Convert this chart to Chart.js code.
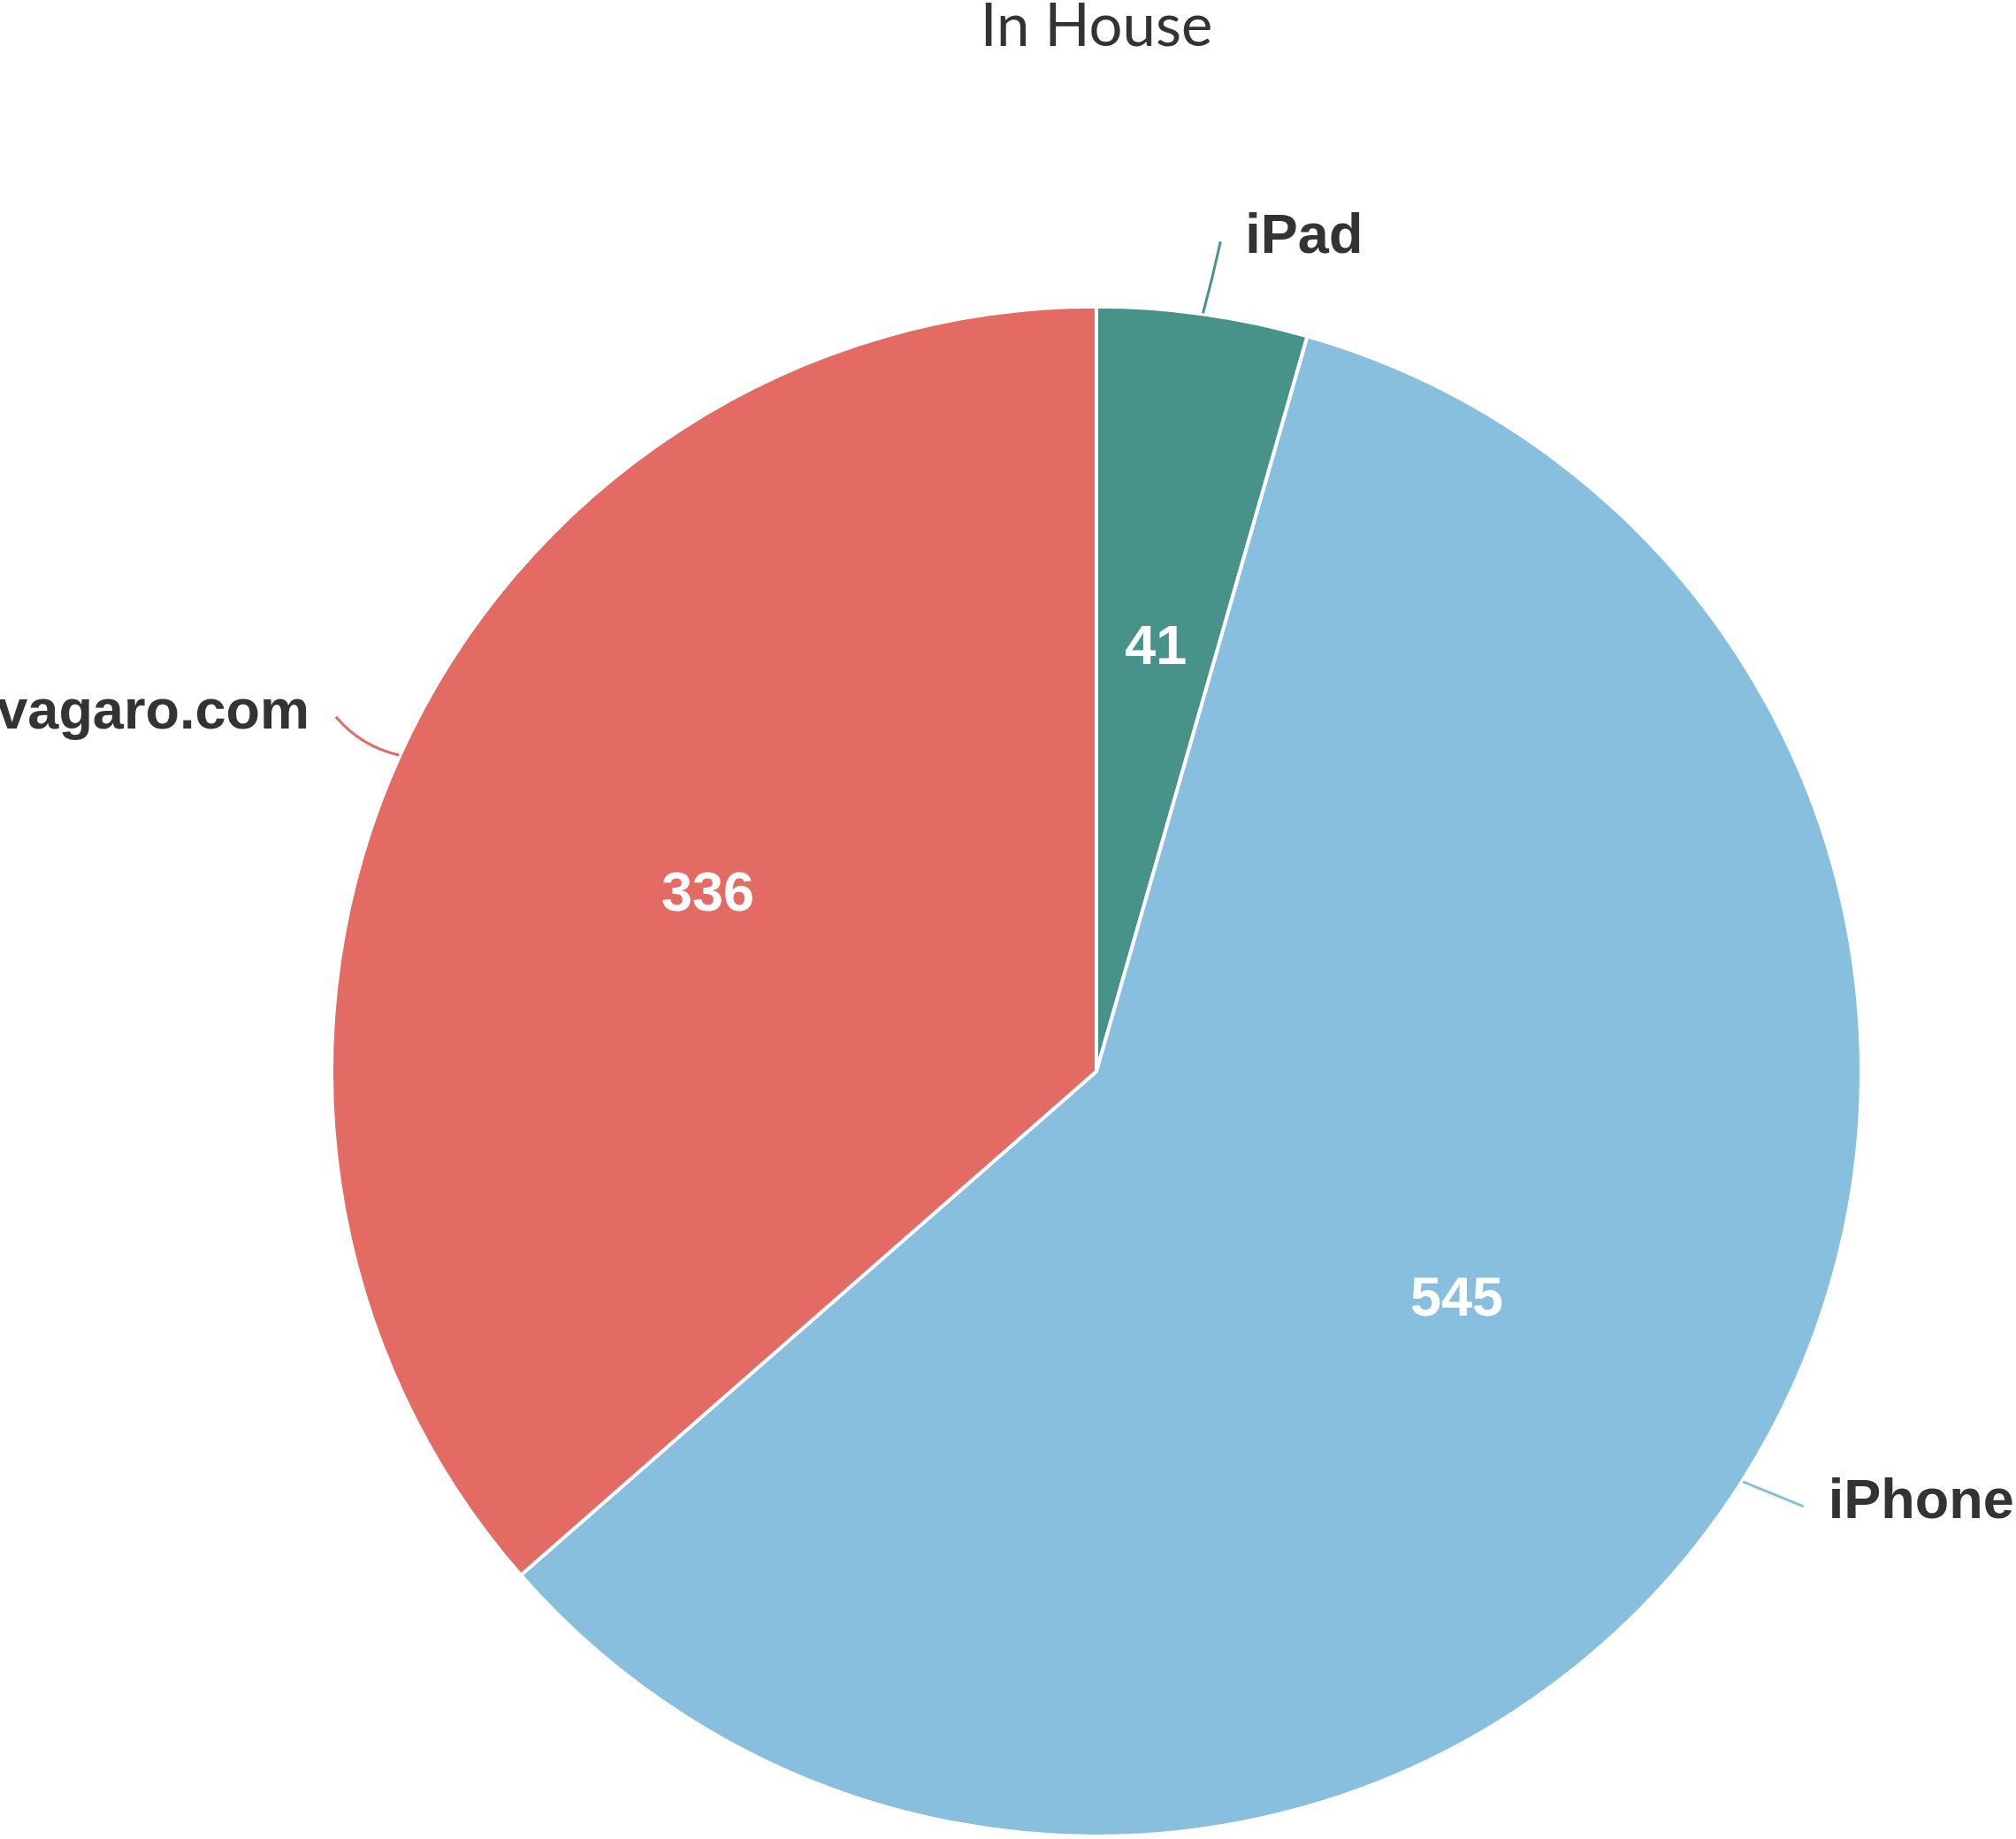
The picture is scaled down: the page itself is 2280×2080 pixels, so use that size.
<!DOCTYPE html>
<html>
<head>
<meta charset="utf-8">
<script src="https://cdn.jsdelivr.net/npm/chart.js@4.4.1/dist/chart.umd.min.js"></script>
<style>
  html, body { margin: 0; padding: 0; background: #ffffff; }
  #wrap { width: 2280px; height: 2080px; position: relative; }
</style>
</head>
<body>
<div id="wrap"><canvas id="c" width="2280" height="2080"></canvas></div>
<script>
const chartTitle = "In House";
const categories = ["iPad", "iPhone", "vagaro.com"];
const seriesValues = [41, 545, 336];
const sliceColors = ["#47938a", "#89bfde", "#e46a64"];

const labelPlugin = {
  id: 'sliceLabels',
  afterDatasetsDraw(chart) {
    const ctx = chart.ctx;
    const meta = chart.getDatasetMeta(0);
    const bends = [0.5, -0.8, 0.6];
    const reach = [84, 74, 84];
    const curve = [1, 0, -14];
    const gap = [28, 28, 30];
    meta.data.forEach((arc, i) => {
      const p = arc.getProps(['x', 'y', 'startAngle', 'endAngle', 'outerRadius'], true);
      const mid = (p.startAngle + p.endAngle) / 2;
      const R = p.outerRadius;
      // value label inside
      const rv = R * 0.558;
      ctx.save();
      ctx.fillStyle = '#ffffff';
      ctx.font = 'bold 63px "Liberation Sans", Arial, sans-serif';
      ctx.textAlign = 'center';
      ctx.textBaseline = 'middle';
      ctx.fillText(String(seriesValues[i]), p.x + Math.cos(mid) * rv, p.y + Math.sin(mid) * rv);
      ctx.restore();
      // connector
      const sx = p.x + Math.cos(mid) * (R + 1);
      const sy = p.y + Math.sin(mid) * (R + 1);
      const ea = mid + bends[i] * Math.PI / 180;
      const er = R + reach[i];
      const ex = p.x + Math.cos(ea) * er;
      const ey = p.y + Math.sin(ea) * er;
      const mx = (sx + ex) / 2, my = (sy + ey) / 2;
      const dx = ex - sx, dy = ey - sy;
      const len = Math.hypot(dx, dy);
      const cx = mx + (-dy / len) * curve[i];
      const cy = my + (dx / len) * curve[i];
      ctx.save();
      ctx.strokeStyle = sliceColors[i];
      ctx.lineWidth = 3;
      ctx.beginPath();
      ctx.moveTo(sx, sy);
      ctx.quadraticCurveTo(cx, cy, ex, ey);
      ctx.stroke();
      ctx.restore();
      // category label
      const right = Math.cos(mid) >= 0;
      ctx.save();
      ctx.fillStyle = '#333333';
      ctx.font = 'bold 63px "Liberation Sans", Arial, sans-serif';
      ctx.textAlign = right ? 'left' : 'right';
      ctx.textBaseline = 'alphabetic';
      ctx.fillText(categories[i], ex + (right ? gap[i] : -gap[i]), ey + 13);
      ctx.restore();
    });
  }
};

new Chart(document.getElementById('c'), {
  type: 'pie',
  data: {
    labels: categories,
    datasets: [{
      data: seriesValues,
      backgroundColor: sliceColors,
      borderColor: '#ffffff',
      borderWidth: 4,
      hoverOffset: 0
    }]
  },
  options: {
    responsive: false,
    animation: false,
    layout: { padding: { top: 0, left: 373, right: 173, bottom: 0 } },
    plugins: {
      legend: { display: false },
      tooltip: { enabled: false },
      title: {
        display: true,
        text: chartTitle,
        color: '#333333',
        font: { family: 'Lato, "Open Sans", sans-serif', size: 67, weight: '400', lineHeight: 0.92 },
        padding: { top: 0, bottom: 282 }
      }
    }
  },
  plugins: [labelPlugin]
});
</script>
</body>
</html>
